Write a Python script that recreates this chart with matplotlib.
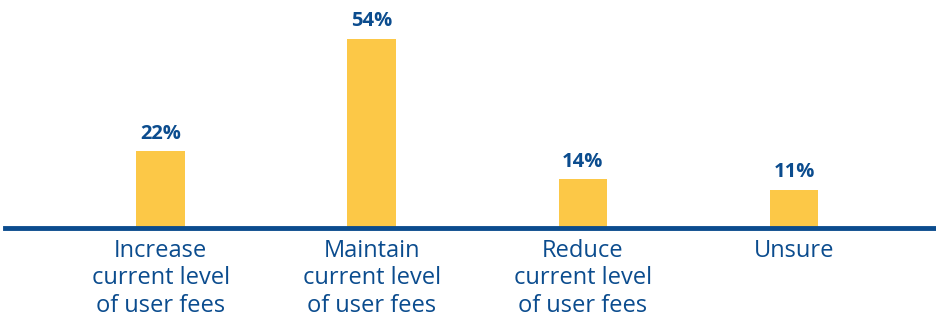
import matplotlib.pyplot as plt

# 데이터
categories = ['Increase\ncurrent level\nof user fees',
              'Maintain\ncurrent level\nof user fees',
              'Reduce\ncurrent level\nof user fees',
              'Unsure']
values = [22, 54, 14, 11]
labels = ['22%', '54%', '14%', '11%']

bar_color = '#FCC847'
blue = '#0B4C8E'

plt.rcParams['font.family'] = ['Open Sans', 'DejaVu Sans']

fig = plt.figure(figsize=(9.36, 3.2), dpi=100)
ax = fig.add_axes([0.005, 0.286, 0.995, 0.714])

x = list(range(len(categories)))
bars = ax.bar(x, values, width=0.23, color=bar_color, zorder=2)

for xi, v, lab in zip(x, values, labels):
    ax.annotate(lab, (xi, v), xytext=(0, 5.5), textcoords='offset points',
                ha='center', va='bottom', fontsize=14.5, fontweight='bold',
                color=blue)

ax.set_xlim(-0.739, 3.673)
ax.set_ylim(0, 65)

# 축 정리
for side in ['top', 'right', 'left']:
    ax.spines[side].set_visible(False)
ax.spines['bottom'].set_color(blue)
ax.spines['bottom'].set_linewidth(3.5)
ax.set_yticks([])
ax.set_xticks(x)
ax.set_xticklabels(categories, fontsize=17, color=blue, linespacing=1.2)
ax.tick_params(axis='x', length=0, pad=7.5)

fig.savefig('out.png', dpi=100)
